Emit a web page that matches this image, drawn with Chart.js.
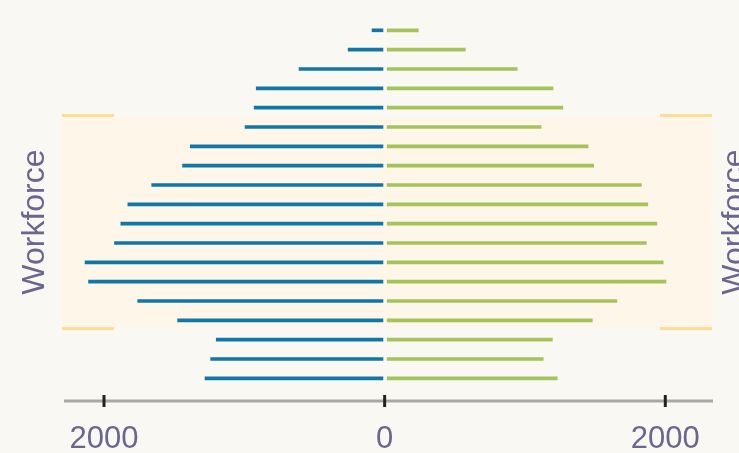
<!DOCTYPE html>
<html>
<head>
<meta charset="utf-8">
<script src="https://cdn.jsdelivr.net/npm/chart.js@4/dist/chart.umd.min.js"></script>
<style>
  html, body { margin: 0; padding: 0; background: #f9f8f3; }
  #wrap { width: 739px; height: 453px; }
</style>
</head>
<body>
<div id="wrap"><canvas id="myChart"></canvas></div>
<script>
// age groups, youngest at the bottom
const ageGroups = ['0-4','5-9','10-14','15-19','20-24','25-29','30-34','35-39','40-44','45-49',
                   '50-54','55-59','60-64','65-69','70-74','75-79','80-84','85-89','90+'];
const leftValues  = [1280, 1240, 1200, 1475, 1760, 2110, 2135, 1925, 1880, 1830,
                     1660, 1440, 1385, 995, 930, 915, 610, 260, 90];      // blue, drawn to the left
const rightValues = [1230, 1130, 1195, 1480, 1655, 2005, 1985, 1865, 1940, 1875,
                     1830, 1490, 1450, 1115, 1270, 1200, 945, 575, 240];  // green, to the right
const xTicks = [-2000, 0, 2000];
const bandLabel = 'Workforce';
const bandFrom = 2.65;   // in row units
const bandTo = 13.52;

const textColor = '#6a6690';
const fontFamily = '"Liberation Sans", Arial, Helvetica, sans-serif';

// band behind the bars + short edge lines + rotated labels
const bandPlugin = {
    id: 'band',
    beforeDatasetsDraw(chart) {
        const {ctx, chartArea, scales} = chart;
        const yTop = scales.y.getPixelForValue(bandTo);
        const yBot = scales.y.getPixelForValue(bandFrom);
        ctx.save();
        ctx.fillStyle = '#fef6e9';
        ctx.fillRect(chartArea.left - 2, yTop, chartArea.right - chartArea.left + 2, yBot - yTop);
        ctx.fillStyle = '#fddc96';
        const w = 52;
        ctx.fillRect(chartArea.left - 2, yTop - 3, w, 3);
        ctx.fillRect(chartArea.left - 2, yBot, w, 3);
        ctx.fillRect(chartArea.right - w - 1, yTop - 3, w, 3);
        ctx.fillRect(chartArea.right - w - 1, yBot, w, 3);
        ctx.restore();
    },
    afterDraw(chart) {
        const {ctx, chartArea, scales} = chart;
        const yMid = (scales.y.getPixelForValue(bandTo) + scales.y.getPixelForValue(bandFrom)) / 2;
        ctx.save();
        ctx.fillStyle = textColor;
        ctx.font = '32px ' + fontFamily;
        ctx.textAlign = 'center';
        ctx.textBaseline = 'alphabetic';
        [chartArea.left - 20, chartArea.right + 31].forEach(x => {
            ctx.save();
            ctx.translate(x, yMid);
            ctx.rotate(-Math.PI / 2);
            ctx.fillText(bandLabel, 0, 0);
            ctx.restore();
        });
        ctx.restore();
    }
};

// grey axis line with black tick marks crossing it
const axisPlugin = {
    id: 'axisLine',
    afterDatasetsDraw(chart) {
        const {ctx, chartArea, scales} = chart;
        const y = chartArea.bottom;
        ctx.save();
        ctx.strokeStyle = '#a8a8a8';
        ctx.lineWidth = 3;
        ctx.beginPath();
        ctx.moveTo(chartArea.left, y);
        ctx.lineTo(chartArea.right, y);
        ctx.stroke();
        ctx.strokeStyle = '#222222';
        ctx.lineWidth = 3;
        xTicks.forEach(v => {
            const x = scales.x.getPixelForValue(v);
            ctx.beginPath();
            ctx.moveTo(x, y - 6);
            ctx.lineTo(x, y + 6);
            ctx.stroke();
        });
        ctx.restore();
    }
};

new Chart(document.getElementById('myChart'), {
    type: 'bar',
    data: {
        datasets: [{
            label: 'Left',
            data: leftValues.map((v, i) => ({x: -v, y: i})),
            backgroundColor: '#1177a7',
            base: -12,
            barThickness: 3
        },
        {
            label: 'Right',
            data: rightValues.map((v, i) => ({x: v, y: i})),
            backgroundColor: '#a4c35b',
            base: 18,
            barThickness: 3
        }]
    },
    options: {
        indexAxis: 'y',
        responsive: true,
        maintainAspectRatio: false,
        animation: false,
        layout: { padding: { left: 64, right: 26, top: 10, bottom: 0 } },
        scales: {
            y: {
                type: 'linear',
                display: false,
                offset: false,
                grid: { offset: false },
                min: -1.17,
                max: 19.05,
                stacked: true
            },
            x: {
                type: 'linear',
                min: -2285,
                max: 2340,
                grid: { display: false, drawTicks: false },
                border: { display: false },
                afterFit(scale) { scale.height = 52; },
                afterBuildTicks(scale) { scale.ticks = xTicks.map(v => ({value: v})); },
                ticks: {
                    padding: 20,
                    color: textColor,
                    font: { size: 31, family: fontFamily },
                    callback: v => Math.abs(v)
                }
            }
        },
        plugins: {
            legend: { display: false },
            tooltip: { enabled: false }
        }
    },
    plugins: [bandPlugin, axisPlugin]
});
</script>
</body>
</html>
